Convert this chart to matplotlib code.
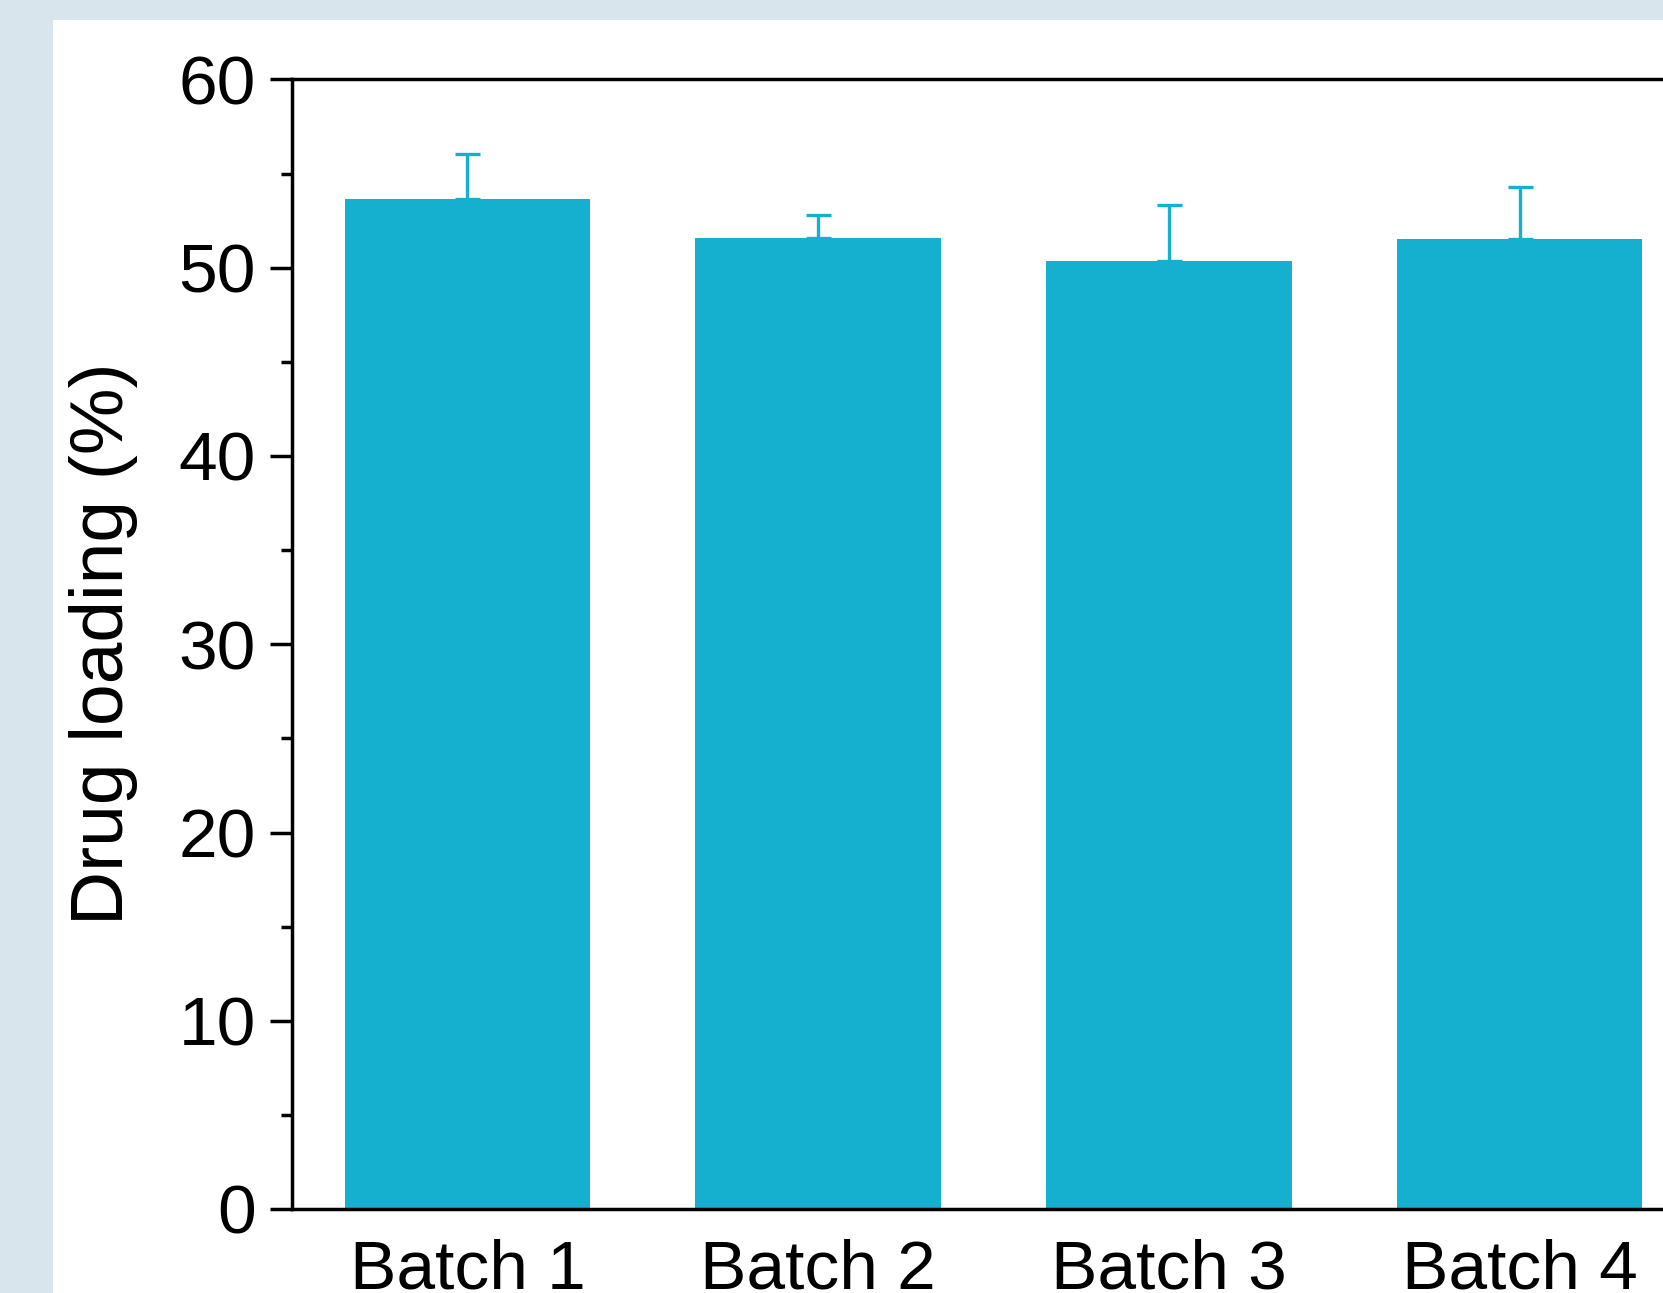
import matplotlib
matplotlib.use('Agg')
import matplotlib.pyplot as plt
from matplotlib.patches import Rectangle

batches = ['Batch 1', 'Batch 2', 'Batch 3', 'Batch 4']
loading = [53.65, 51.6, 50.36, 51.53]
loading_err = [2.39, 1.19, 2.97, 2.76]
y_ticks = [0, 10, 20, 30, 40, 50, 60]

bar_color = '#15b0d0'
plt.rcParams['font.family'] = ['Liberation Sans', 'DejaVu Sans']

fig = plt.figure(figsize=(16.63, 12.93), dpi=100, facecolor='#d9e5ec')
# white panel, the picture is a crop of a larger figure
fig.patches.append(Rectangle((53 / 1663, 0), 1, 1 - 20 / 1293, transform=fig.transFigure,
                             facecolor='white', edgecolor='none', zorder=-1))

ax = fig.add_axes([292 / 1663, 84 / 1293, 1403 / 1663, 1129.5 / 1293])
ax.set_facecolor('none')

x = range(1, len(batches) + 1)
ax.bar(x, loading, width=0.7, color=bar_color, zorder=2)
ax.errorbar(x, loading, yerr=[[0] * len(loading), loading_err], fmt='none',
            ecolor=bar_color, elinewidth=2.4, capsize=9, capthick=2.4, zorder=1)

ax.set_xlim(0.5, 4.5)
ax.set_ylim(0, 60)
ax.set_xticks(list(x))
ax.set_xticklabels(batches)
ax.set_yticks(y_ticks)
ax.set_yticks([5, 15, 25, 35, 45, 55], minor=True)

for s in ax.spines.values():
    s.set_linewidth(2.5)

ax.tick_params(axis='y', which='major', length=16, width=2.5, labelsize=50, pad=10)
ax.tick_params(axis='y', which='minor', length=8, width=2.5)
ax.tick_params(axis='x', length=0, labelsize=50, pad=21)

ax.set_ylabel('Drug loading (%)', fontsize=54)
ax.yaxis.set_label_coords(-0.11, 0.5)

plt.savefig('out.png', dpi=100, facecolor=fig.get_facecolor())
